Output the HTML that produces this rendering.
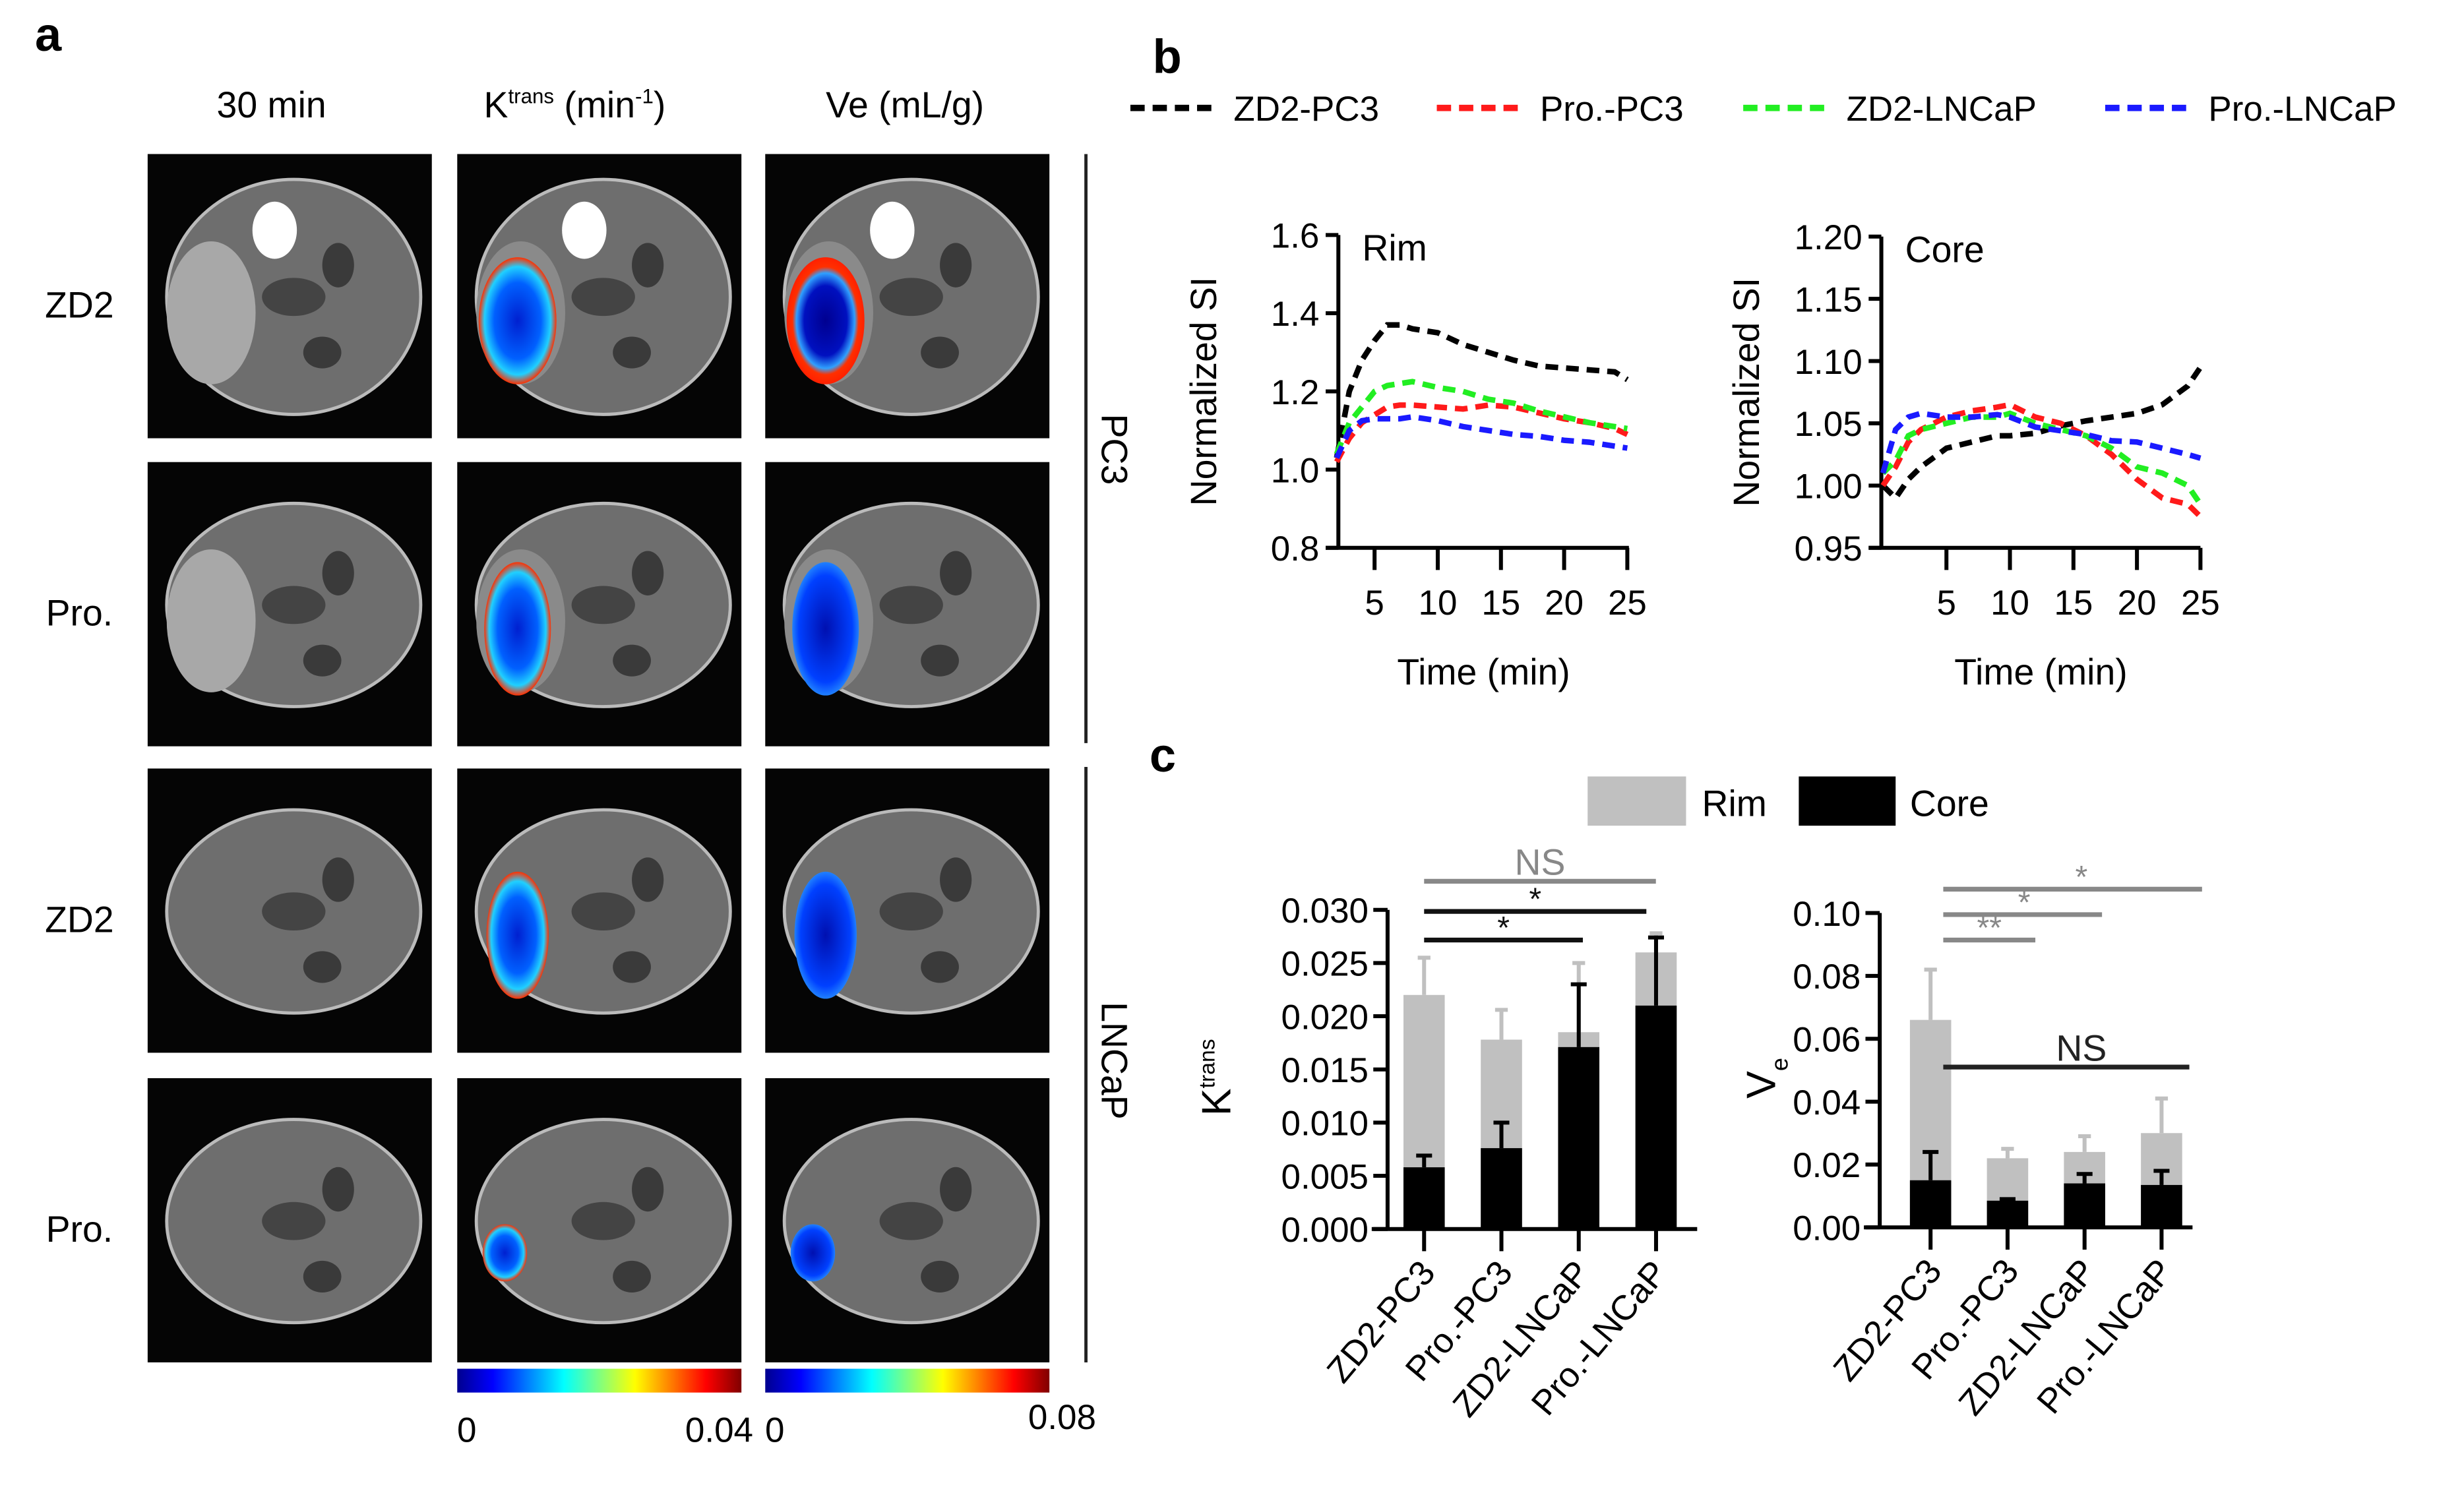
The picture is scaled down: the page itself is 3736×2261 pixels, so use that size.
<!DOCTYPE html>
<html><head><meta charset="utf-8"><style>
html,body{margin:0;padding:0;background:#fff;}
svg{display:block;font-family:"Liberation Sans",Arial,sans-serif;}
</style></head><body>
<svg id="fig" width="3736" height="2261" viewBox="0 0 1552 939" preserveAspectRatio="none" xmlns="http://www.w3.org/2000/svg">
<defs>
<linearGradient id="jet" x1="0" x2="1" y1="0" y2="0">
<stop offset="0" stop-color="#00008f"/><stop offset="0.125" stop-color="#0000ff"/><stop offset="0.375" stop-color="#00ffff"/><stop offset="0.625" stop-color="#ffff00"/><stop offset="0.875" stop-color="#ff0000"/><stop offset="1" stop-color="#800000"/>
</linearGradient>
<radialGradient id="blobK" cx="0.5" cy="0.5" r="0.5"><stop offset="0" stop-color="#0020d0"/><stop offset="0.6" stop-color="#0060ff"/><stop offset="0.85" stop-color="#20d0ff"/><stop offset="1" stop-color="#ff3000"/></radialGradient>
<radialGradient id="blobV" cx="0.5" cy="0.5" r="0.5"><stop offset="0" stop-color="#000090"/><stop offset="0.55" stop-color="#0010c0"/><stop offset="0.75" stop-color="#30a0ff"/><stop offset="0.85" stop-color="#ff3000"/><stop offset="1" stop-color="#ff2000"/></radialGradient>
<radialGradient id="blobB" cx="0.5" cy="0.5" r="0.5"><stop offset="0" stop-color="#0010b0"/><stop offset="0.8" stop-color="#0040ff"/><stop offset="1" stop-color="#2080ff"/></radialGradient>
</defs>
<g id="panelA"></g>
<g id="panelB"></g>
<g id="panelC"></g>
</svg>
<script>
// ---------- data: panel b ----------
const rimTime = [2,3,4,5,6,7,8,10,12,14,16,18,20,22,24,25];
const rimZD2PC3 = [1.03,1.20,1.28,1.33,1.37,1.37,1.36,1.35,1.32,1.30,1.28,1.265,1.26,1.255,1.25,1.23];
const rimProPC3 = [1.02,1.08,1.12,1.14,1.16,1.165,1.165,1.16,1.155,1.165,1.16,1.145,1.13,1.12,1.105,1.09];
const rimZD2LNCaP = [1.04,1.12,1.16,1.20,1.215,1.22,1.225,1.21,1.20,1.18,1.17,1.15,1.135,1.12,1.11,1.105];
const rimProLNCaP = [1.03,1.10,1.125,1.13,1.13,1.13,1.135,1.125,1.11,1.10,1.09,1.085,1.075,1.07,1.06,1.055];
const coreTime = [0,1,2,3,5,7,9,10,12,14,16,18,20,22,24,25];
const coreZD2PC3 = [1.00,0.99,1.005,1.015,1.03,1.035,1.04,1.04,1.042,1.048,1.052,1.055,1.058,1.065,1.08,1.095];
const coreProPC3 = [1.00,1.015,1.035,1.045,1.055,1.06,1.063,1.065,1.055,1.05,1.04,1.025,1.005,0.99,0.985,0.975];
const coreZD2LNCaP = [1.01,1.02,1.04,1.045,1.05,1.055,1.055,1.058,1.05,1.045,1.04,1.03,1.015,1.01,1.0,0.985];
const coreProLNCaP = [1.01,1.045,1.055,1.058,1.055,1.055,1.057,1.055,1.047,1.044,1.041,1.036,1.035,1.03,1.025,1.022];
const rimYTicks = [0.8,1.0,1.2,1.4,1.6];
const coreYTicks = [0.95,1.00,1.05,1.10,1.15,1.20];
const xTicks = [5,10,15,20,25];
// ---------- data: panel c ----------
const groups = ["ZD2-PC3","Pro.-PC3","ZD2-LNCaP","Pro.-LNCaP"];
const kRim = [0.022,0.0178,0.0185,0.026];
const kRimErr = [0.0255,0.0206,0.025,0.0278];
const kCore = [0.0058,0.0076,0.0171,0.0210];
const kCoreErr = [0.0069,0.0100,0.0230,0.0274];
const kTicks = ["0.000","0.005","0.010","0.015","0.020","0.025","0.030"];
const vRim = [0.066,0.022,0.024,0.030];
const vRimErr = [0.082,0.025,0.029,0.041];
const vCore = [0.015,0.0085,0.014,0.0135];
const vCoreErr = [0.024,0.009,0.017,0.018];
const vTicks = ["0.00","0.02","0.04","0.06","0.08","0.10"];

const NS="http://www.w3.org/2000/svg";
function mk(parent,tag,attrs,text){const e=document.createElementNS(NS,tag);for(const k in attrs)e.setAttribute(k,attrs[k]);if(text!==undefined)e.textContent=text;parent.appendChild(e);return e;}

// ---------- panel a ----------
const A=document.getElementById('panelA');
let t;
t=mk(A,'text',{x:22,y:32,'font-size':30,'font-weight':'bold'},'a');

t=mk(A,'text',{x:171,y:74,'font-size':23,'text-anchor':'middle'},'30 min');

t=mk(A,'text',{x:362,y:74,'font-size':23,'text-anchor':'middle'});
t.innerHTML='K<tspan font-size="13" dy="-9">trans</tspan><tspan dy="9">  (min</tspan><tspan font-size="13" dy="-9">-1</tspan><tspan dy="9">)</tspan>';

t=mk(A,'text',{x:570,y:74,'font-size':23,'text-anchor':'middle'},'Ve (mL/g)');

const cols=[93,288,482], rows=[97,291,484,679], rowLab=['ZD2','Pro.','ZD2','Pro.'];
rows.forEach((ry,ri)=>{
  t=mk(A,'text',{x:50,y:ry+103,'font-size':23,'text-anchor':'middle'},rowLab[ri]);
  
  cols.forEach((cx,ci)=>{
    const g=mk(A,'g',{});
    
    mk(g,'rect',{x:cx,y:ry,width:179,height:179,fill:'#050505'});
    mk(g,'ellipse',{cx:cx+92,cy:ry+90,rx:80,ry:ri==0?74:64,fill:'#6e6e6e',stroke:'#bbb','stroke-width':2});
    if(ri<2) mk(g,'ellipse',{cx:cx+40,cy:ry+100,rx:28,ry:45,fill:ci==0?'#a8a8a8':'#8a8a8a'});
    mk(g,'ellipse',{cx:cx+92,cy:ry+90,rx:20,ry:12,fill:'#444'});
    if(ri==0) mk(g,'ellipse',{cx:cx+80,cy:ry+48,rx:14,ry:18,fill:'#fff'});
    mk(g,'ellipse',{cx:cx+120,cy:ry+70,rx:10,ry:14,fill:'#3a3a3a'});
    mk(g,'ellipse',{cx:cx+110,cy:ry+125,rx:12,ry:10,fill:'#3a3a3a'});
    if(ci>0){
      const sizes=[[35,40],[30,42],[28,40],[20,18]];
      const [bx,by]=sizes[ri];
      const fill = ci==1 ? 'url(#blobK)' : (ri==0?'url(#blobV)':'url(#blobB)');
      mk(g,'ellipse',{cx:cx+(ri==3?30:38),cy:ry+(ri==3?110:105),rx:bx*0.7,ry:by,fill:fill});
    }
  });
});
[[288,'0','0.04'],[482,'0','0.08']].forEach(([x,a,b],i)=>{
  t=mk(A,'rect',{x:x,y:862,width:179,height:15,fill:'url(#jet)'});
  
  t=mk(A,'text',{x:x+6,y:908,'font-size':22,'text-anchor':'middle'},a);
  
  t=mk(A,'text',{x:i?x+187:x+165,y:i?900:908,'font-size':22,'text-anchor':'middle'},b);
  
});
mk(A,'line',{x1:684,y1:97,x2:684,y2:468,stroke:'#222','stroke-width':2});
mk(A,'line',{x1:684,y1:483,x2:684,y2:858,stroke:'#222','stroke-width':2});
t=mk(A,'text',{x:0,y:0,'font-size':23,'text-anchor':'middle',transform:'translate(694,283) rotate(90)'},'PC3');

t=mk(A,'text',{x:0,y:0,'font-size':23,'text-anchor':'middle',transform:'translate(694,668) rotate(90)'},'LNCaP');


// ---------- panel b ----------
const B=document.getElementById('panelB');
t=mk(B,'text',{x:726,y:46,'font-size':30,'font-weight':'bold'},'b');

const colors=['#000','#ff1a1a','#22ee22','#1a1aff'], names=['ZD2-PC3','Pro.-PC3','ZD2-LNCaP','Pro.-LNCaP'];
const legX=[712,905,1098,1326];
names.forEach((n,i)=>{
  const g=mk(B,'g',{});
  
  mk(g,'line',{x1:legX[i],y1:68,x2:legX[i]+56,y2:68,stroke:colors[i],'stroke-width':4,'stroke-dasharray':'9 5'});
  mk(g,'text',{x:legX[i]+65,y:76,'font-size':22},n);
});
function linechart(id,x0,xAxisL,xAxisR,tScale,yTop,yBot,yMin,yMax,yt,dec,label,times,series){
  const g=mk(B,'g',{});
  
  const X=v=>x0+v*tScale, Y=v=>yBot-(v-yMin)/(yMax-yMin)*(yBot-yTop);
  mk(g,'line',{x1:xAxisL,y1:yTop,x2:xAxisL,y2:yBot,stroke:'#000','stroke-width':2.5});
  mk(g,'line',{x1:xAxisL-8,y1:yBot,x2:xAxisR,y2:yBot,stroke:'#000','stroke-width':2.5});
  yt.forEach(v=>{
    mk(g,'line',{x1:xAxisL-8,y1:Y(v),x2:xAxisL,y2:Y(v),stroke:'#000','stroke-width':2.5});
    const tt=mk(g,'text',{x:xAxisL-12,y:Y(v)+8,'font-size':22,'text-anchor':'end'},v.toFixed(dec));
    
  });
  xTicks.forEach(v=>{
    mk(g,'line',{x1:X(v),y1:yBot,x2:X(v),y2:yBot+14,stroke:'#000','stroke-width':2.5});
    const tt=mk(g,'text',{x:X(v),y:yBot+42,'font-size':22,'text-anchor':'middle'},v);
    
  });
  let tt=mk(g,'text',{x:0,y:0,'font-size':23,'text-anchor':'middle',transform:`translate(${xAxisL-77},${(yTop+yBot)/2}) rotate(-90)`},'Normalized SI');
  
  tt=mk(g,'text',{x:(xAxisL+xAxisR)/2,y:yBot+86,'font-size':23,'text-anchor':'middle'},'Time (min)');
  
  tt=mk(g,'text',{x:xAxisL+15,y:yTop+16,'font-size':23},label);
  
  series.forEach((s,i)=>{
    const p=mk(g,'polyline',{points:times.map((tv,j)=>X(tv)+','+Y(s[j])).join(' '),fill:'none',stroke:colors[i],'stroke-width':3.5,'stroke-dasharray':'8 5'});
    
  });
}
linechart('rim-chart',826,843,1026,7.96,148,345,0.8,1.6,rimYTicks,1,'Rim',rimTime,[rimZD2PC3,rimProPC3,rimZD2LNCaP,rimProLNCaP]);
linechart('core-chart',1186,1185,1386,8.0,149,345,0.95,1.20,coreYTicks,2,'Core',coreTime,[coreZD2PC3,coreProPC3,coreZD2LNCaP,coreProLNCaP]);

// ---------- panel c ----------
const C=document.getElementById('panelC');
t=mk(C,'text',{x:724,y:486,'font-size':30,'font-weight':'bold'},'c');

let lg=mk(C,'g',{});
mk(lg,'rect',{x:1000,y:489,width:62,height:31,fill:'#c0c0c0'});mk(lg,'text',{x:1072,y:514,'font-size':23},'Rim');
lg=mk(C,'g',{});
mk(lg,'rect',{x:1133,y:489,width:61,height:31,fill:'#000'});mk(lg,'text',{x:1203,y:514,'font-size':23},'Core');

function barchart(id,axX,axR,c0,step,yTop,yBot,yMax,ticks,rim,rimE,core,coreE,ylab,ylabX,sigs){
  const g=mk(C,'g',{});
  
  const Y=v=>yBot-v/yMax*(yBot-yTop), X=i=>c0+i*step, bw=26;
  groups.forEach((n,i)=>{
    const x=X(i);
    mk(g,'line',{x1:x,y1:Y(rim[i]),x2:x,y2:Y(rimE[i]),stroke:'#c0c0c0','stroke-width':2.5});
    mk(g,'line',{x1:x-4,y1:Y(rimE[i]),x2:x+4,y2:Y(rimE[i]),stroke:'#c0c0c0','stroke-width':2.5});
    let r=mk(g,'rect',{x:x-bw/2,y:Y(rim[i]),width:bw,height:yBot-Y(rim[i]),fill:'#c0c0c0'});
    
    r=mk(g,'rect',{x:x-bw/2,y:Y(core[i]),width:bw,height:yBot-Y(core[i]),fill:'#000'});
    
    mk(g,'line',{x1:x,y1:Y(core[i]),x2:x,y2:Y(coreE[i]),stroke:'#000','stroke-width':2.5});
    mk(g,'line',{x1:x-5,y1:Y(coreE[i]),x2:x+5,y2:Y(coreE[i]),stroke:'#000','stroke-width':2.5});
    mk(g,'line',{x1:x,y1:yBot,x2:x,y2:yBot+14,stroke:'#000','stroke-width':2.5});
    const tt=mk(g,'text',{x:0,y:0,'font-size':22,'text-anchor':'end',transform:`translate(${x+8},${yBot+28}) rotate(-50)`},n);
    
  });
  mk(g,'line',{x1:axX,y1:yTop,x2:axX,y2:yBot,stroke:'#000','stroke-width':2.5});
  mk(g,'line',{x1:axX-10,y1:yBot,x2:axR,y2:yBot,stroke:'#000','stroke-width':2.5});
  ticks.forEach((lab,i)=>{
    const v=yMax*i/(ticks.length-1);
    mk(g,'line',{x1:axX-9,y1:Y(v),x2:axX,y2:Y(v),stroke:'#000','stroke-width':2.5});
    const tt=mk(g,'text',{x:axX-12,y:Y(v)+8,'font-size':22,'text-anchor':'end'},lab);
    
  });
  const yl=mk(g,'text',{x:0,y:0,'font-size':26,'text-anchor':'middle',transform:`translate(${ylabX},${(yTop+yBot)/2+5}) rotate(-90)`});
  yl.innerHTML=ylab;
  
  sigs.forEach(s=>{
    const sg=mk(g,'g',{});
    
    mk(sg,'line',{x1:s[0],y1:s[2],x2:s[1],y2:s[2],stroke:s[4],'stroke-width':3});
    mk(sg,'text',{x:s[5]||(s[0]+s[1])/2,y:s[2]-(s[3]=='NS'?4:1),'font-size':s[3]=='NS'?23:20,'text-anchor':'middle',fill:s[4]},s[3]);
  });
}
barchart('ktrans-chart',874,1069,897,48.7,573,774,0.030,kTicks,kRim,kRimErr,kCore,kCoreErr,
 'K<tspan font-size="14" dy="-10">trans</tspan>',775,
 [[897,1043,555,'NS','#888'],[897,1037,574,'*','#111'],[897,997,592,'*','#111',947]]);
barchart('ve-chart',1184,1381,1216,48.5,575,773,0.10,vTicks,vRim,vRimErr,vCore,vCoreErr,
 'V<tspan font-size="15" dy="8">e</tspan>',1118,
 [[1224,1387,560,'*','#888',1311],[1224,1324,576,'*','#888',1275],[1224,1282,592,'**','#888',1253],[1224,1379,672,'NS','#222',1311]]);
</script>
</body></html>
